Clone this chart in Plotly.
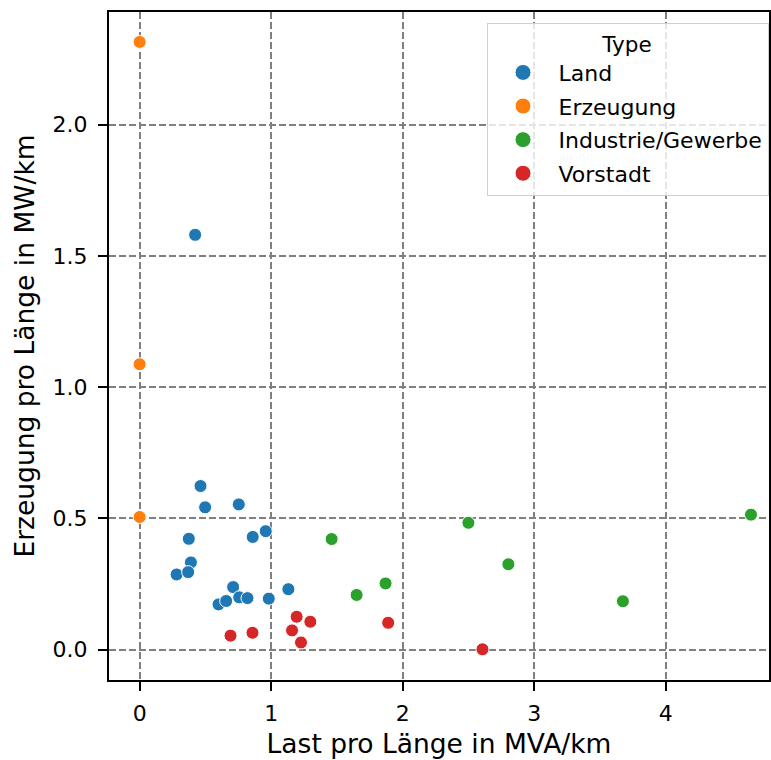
import plotly.graph_objects as go

categories = ["Land", "Erzeugung", "Industrie/Gewerbe", "Vorstadt"]
colors = ["#1f77b4", "#ff7f0e", "#2ca02c", "#d62728"]

land_x = [0.422, 0.463, 0.498, 0.754, 0.374, 0.860, 0.959, 0.390, 0.281, 0.369, 0.711, 0.600, 0.658, 0.757, 0.820, 0.982, 1.131]
land_y = [1.580, 0.623, 0.542, 0.553, 0.422, 0.429, 0.451, 0.332, 0.286, 0.295, 0.238, 0.172, 0.185, 0.199, 0.196, 0.194, 0.230]
erz_x = [0.0, 0.0, 0.0]
erz_y = [2.315, 1.087, 0.505]
ind_x = [1.460, 1.650, 1.870, 2.500, 2.804, 3.675, 4.649]
ind_y = [0.421, 0.208, 0.252, 0.483, 0.325, 0.184, 0.514]
vor_x = [0.691, 0.858, 1.194, 1.298, 1.159, 1.227, 1.890, 2.607]
vor_y = [0.053, 0.064, 0.125, 0.106, 0.073, 0.027, 0.102, 0.001]

x_ticks = [0, 1, 2, 3, 4]
y_ticks = [0.0, 0.5, 1.0, 1.5, 2.0]
y_tick_labels = ["0.0", "0.5", "1.0", "1.5", "2.0"]

series = [(land_x, land_y), (erz_x, erz_y), (ind_x, ind_y), (vor_x, vor_y)]

FONT = "DejaVu Sans"
fig = go.Figure()
for name, color, (xs, ys) in zip(categories, colors, series):
    fig.add_trace(go.Scatter(
        x=xs, y=ys, mode="markers", name=name, legendgroup=name, showlegend=False,
        marker=dict(size=13, color=color, line=dict(color="white", width=1)),
    ))
# legend entries (larger symbols, as in the reference legend)
for name, color in zip(categories, colors):
    fig.add_trace(go.Scatter(
        x=[None], y=[None], mode="markers", name=name, legendgroup=name, showlegend=True,
        marker=dict(size=16, color=color, line=dict(color="white", width=1)),
    ))

axis_common = dict(
    showline=True, linecolor="black", linewidth=2, mirror=True,
    ticks="outside", ticklen=9, tickwidth=2, tickcolor="black",
    showgrid=True, gridcolor="#808080", gridwidth=1.6, griddash="7px,3px",
    zeroline=False, tickfont=dict(family=FONT, size=22, color="black"),
)

fig.update_layout(
    width=771, height=760,
    margin=dict(l=109, r=2, t=12, b=80, autoexpand=False),
    paper_bgcolor="white", plot_bgcolor="white",
    font=dict(family=FONT, color="black"),
    showlegend=True,
    xaxis=dict(range=[-0.233, 4.786], tickvals=x_ticks, ticktext=[str(t) for t in x_ticks],
               ticklabelstandoff=4,
               title=dict(text="Last pro Länge in MVA/km", font=dict(family=FONT, size=26.5), standoff=9),
               **axis_common),
    yaxis=dict(range=[-0.116, 2.429], tickvals=y_ticks, ticktext=y_tick_labels,
               ticklabelstandoff=6,
               title=dict(text="Erzeugung pro Länge in MW/km", font=dict(family=FONT, size=26.5), standoff=10),
               **axis_common),
    legend=dict(
        x=0.572, y=0.984, xanchor="left", yanchor="top",
        bgcolor="rgba(255,255,255,0.8)", bordercolor="#d0d0d0", borderwidth=1,
        font=dict(family=FONT, size=22, color="black"),
        title=dict(text="Type", side="top center", font=dict(family=FONT, size=21.5)),
        tracegroupgap=2, itemwidth=61,
    ),
)

fig.write_html("out.html")
